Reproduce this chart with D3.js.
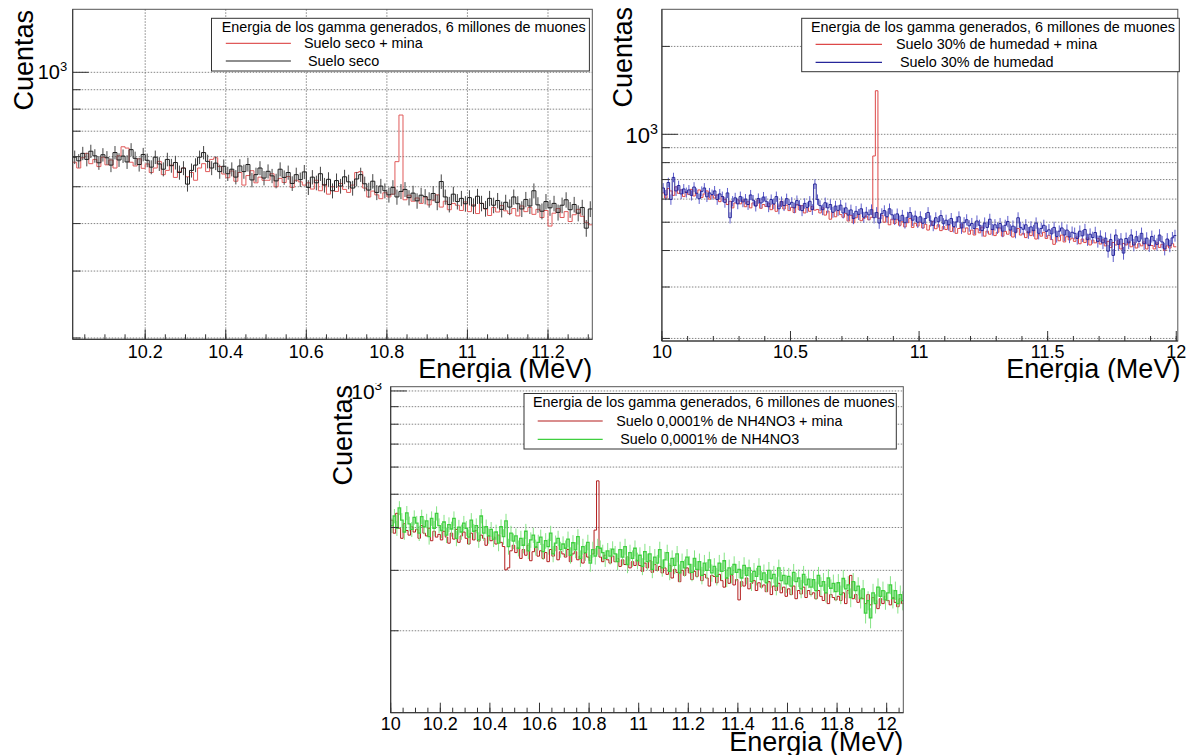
<!DOCTYPE html>
<html><head><meta charset="utf-8">
<script src="https://cdn.jsdelivr.net/npm/d3@7"></script>
<style>
body{margin:0;background:#fff}
svg{display:block}
text{font-family:"Liberation Sans",Arial,Helvetica,sans-serif;fill:#000}
</style>
</head><body>
<svg id="c" width="1188" height="755"></svg>
<script>
// ---------------- DATA ----------------
const binWidth = 0.01;
const legendTitle = "Energia de los gamma generados, 6 millones de muones";
const xTitle = "Energia (MeV)";
const yTitle = "Cuentas";

// Top-left: bins start at 10.02
const tlStart = 10.02;
const tlRed = [580,560,596,612,575,590,565,598,
571,588,560,603,637,632,580,567,592,559,
574,545,560,583,538,552,570,529,548,560,
531,545,520,560,575,548,590,596,565,540,
528,550,517,545,505,535,551,512,530,520,
520,541,500,526,513,532,498,520,515,505,
512,493,520,488,507,478,500,486,510,492,
483,505,545,548,496,470,487,476,465,482,
470,478,582,772,462,475,458,467,452,470,
448,461,476,442,458,435,452,447,433,456,
430,448,425,452,437,420,441,429,446,432,
425,438,419,445,430,441,423,436,415,433,
394,426,438,415,430,405,422,436,418,403,
397];
const tlBlack = [598,585,612,590,620,603,578,607,
596,570,615,588,602,581,626,594,572,608,
587,563,598,574,556,590,568,579,545,560,
508,552,570,598,615,583,560,577,548,566,
541,556,530,567,548,572,521,538,560,527,
549,534,518,556,529,545,510,538,522,547,
498,530,512,541,505,523,488,519,502,531,
515,496,524,538,509,490,517,483,502,488,
476,498,470,486,492,468,481,459,475,471,
462,480,455,516,470,449,478,457,466,451,
468,445,472,452,438,466,447,460,436,455,
442,470,451,437,463,445,488,448,431,457,
440,452,428,447,462,435,449,426,441,389,
437];
const tlLabels = ["Suelo seco + mina", " Suelo seco"];
const tlXTicks = [10.2,10.4,10.6,10.8,11,11.2];

// Top-right: bins start at 10.00
const trStart = 10.00;
const trRed = [630,605,652,640,618,661,628,645,612,636,
622,648,615,630,645,608,625,640,600,618,
605,620,588,612,598,575,590,560,582,596,
578,595,565,588,560,582,570,596,558,575,
566,580,552,575,545,568,590,555,572,548,
562,540,575,552,570,538,560,545,566,550,
553,538,560,529,546,512,540,522,548,531,
520,536,505,528,498,518,532,506,515,525,
510,520,843,1410,515,528,500,521,490,512,
495,510,488,502,482,498,515,480,496,485,
500,478,492,470,488,503,475,490,468,483,
472,490,465,480,458,476,492,463,478,455,
470,452,475,460,481,448,466,455,473,450,
462,478,448,465,455,470,445,460,476,452,
458,443,465,450,470,438,455,448,462,440,
451,436,420,445,432,452,428,446,435,441,
430,445,422,438,426,442,418,434,425,440,
421,435,415,430,410,426,418,432,405,423,
418,430,412,425,408,422,415,428,405,420,
416,405,425,410,420,400,415,408,422,412];
const trBlue = [655,620,684,598,712,640,668,625,650,632,
645,618,660,628,602,638,655,611,630,622,
640,598,625,612,585,630,518,590,606,578,
612,587,600,575,620,595,568,603,582,610,
590,565,598,578,612,556,588,570,602,575,
585,560,593,571,548,580,562,590,553,676,
598,570,552,583,560,575,541,568,549,572,
538,560,529,551,515,545,532,556,520,541,
530,552,518,540,497,535,548,522,556,530,
512,534,505,528,498,520,540,508,525,500,
522,496,515,540,505,488,518,502,527,494,
508,490,515,483,501,522,478,498,510,486,
495,476,505,488,468,497,480,512,472,490,
478,495,466,488,503,470,485,462,518,480,
473,490,460,482,468,497,458,476,488,465,
471,456,480,447,466,478,452,470,445,462,
458,440,466,449,472,436,455,443,461,430,
448,425,441,398,436,385,452,420,438,392,
440,425,452,418,446,430,458,422,441,416,
447,432,420,452,428,405,438,415,442,450];
const trLabels = ["Suelo 30% de humedad + mina", " Suelo 30% de humedad"];
const trXTicks = [10,10.5,11,11.5,12];

// Bottom: bins start at 10.00
const btStart = 10.00;
const btRed = [420,385,440,398,372,410,392,380,402,388,
395,372,405,385,378,398,366,390,375,382,
368,390,375,360,385,370,395,362,378,388,
372,358,385,368,392,365,380,372,355,378,
366,375,358,380,362,352,301,305,342,355,
338,350,325,345,332,355,320,340,352,330,
342,325,338,318,345,330,352,322,340,335,
328,345,318,335,340,322,330,315,336,328,
320,335,393,547,328,318,332,322,315,330,
318,325,308,322,312,328,305,318,310,322,
310,298,315,305,320,296,312,300,308,295,
305,292,310,285,302,296,278,300,290,305,
295,282,298,288,302,280,292,285,270,290,
288,276,292,280,268,285,275,290,272,282,
246,278,270,285,265,275,280,262,276,268,
272,260,278,255,270,262,275,258,268,252,
265,255,270,248,262,256,268,250,262,255,
258,248,262,252,245,258,240,255,250,246,
252,245,258,240,262,290,248,255,242,250,
248,240,255,238,250,245,232,248,240,252,
245,238,250,242,235,248,240];
const btGreen = [405,432,398,456,420,388,441,410,395,428,
412,385,430,402,418,376,425,398,440,405,
392,415,380,408,396,425,372,401,388,412,
398,375,420,390,405,368,432,385,402,378,
395,370,388,360,402,376,418,352,385,365,
378,348,372,355,390,342,368,380,350,362,
375,340,366,352,385,335,360,372,345,358,
348,370,332,361,344,376,325,352,338,362,
315,345,330,352,348,338,325,342,330,346,
335,318,345,328,352,312,338,325,348,320,
332,308,340,318,335,302,328,315,345,305,
322,338,298,325,310,335,295,318,305,328,
312,296,325,302,318,290,315,300,322,295,
308,288,315,298,320,285,305,292,312,296,
302,285,310,290,305,278,298,288,308,282,
295,276,300,284,292,270,305,280,290,274,
288,270,296,278,285,265,292,272,283,268,
282,262,290,270,278,258,285,266,275,260,
276,255,284,265,272,250,278,262,270,248,
265,225,245,218,258,240,268,252,262,246,
258,272,248,262,240,255,245];
const btLabels = ["Suelo 0,0001% de NH4NO3 + mina", " Suelo 0,0001% de NH4NO3"];
const btXTicks = [10,10.2,10.4,10.6,10.8,11,11.2,11.4,11.6,11.8,12];

const yGridVals = [100,200,300,400,500,600,700,800,900,1000,2000,3000];

// ---------------- LAYOUT ----------------
const panels = [
  {clip:[0,0,600,382], f:{l:72.7,r:592.3,t:9.3,b:339.3}, xDom:[10.02,11.31], yDom:[198.4,1465],
   start:tlStart, series:[{d:tlRed,c:"#e05a5a",err:false,w:1},{d:tlBlack,c:"#1e1e1e",err:true,w:1,ec:"#444"}],
   labels:tlLabels, xt:tlXTicks, minor:0.05, vgrid:true,
   yl:{x:33,y:10}, e3:{fs:20,dx:5.5,dy:7}, tickBase:358, xtBase:377.5, xtRight:592.3,
   leg:{box:[211.5,18.3,589.4,71],tx:221.7,tb:32,lx:[225.8,290.9],ry:[43.3,61],lab:304,fs:14.4}},
  {clip:[600,0,588,382], f:{l:661.9,r:1177.8,t:9.3,b:341}, xDom:[10,12.006], yDom:[196,2680],
   start:trStart, series:[{d:trRed,c:"#dd4848",err:false,w:1},{d:trBlue,c:"#26269a",err:true,w:1,ec:"#5d5dcc"}],
   labels:trLabels, xt:trXTicks, minor:0.1, vgrid:false,
   yl:{x:632,y:7}, e3:{fs:22,dx:4,dy:9}, tickBase:358, xtBase:377.5, xtRight:1180.4,
   leg:{box:[801.7,18.3,1179.3,71.7],tx:811,tb:32,lx:[815.6,882],ry:[44.3,62.3],lab:896,fs:14.4}},
  {clip:[300,383,620,372], f:{l:390.7,r:903.3,t:386.7,b:712.7}, xDom:[10,12.067], yDom:[115.4,1029],
   start:btStart, series:[{d:btRed,c:"#b31d1d",err:false,w:1},{d:btGreen,c:"#3fcf3f",err:true,w:1.3,ec:"#86e486"}],
   labels:btLabels, xt:btXTicks, minor:0.05, vgrid:false,
   yl:{x:352,y:385}, e3:{fs:21,dx:8.5,dy:8}, tickBase:730, xtBase:751, xtRight:903.3,
   leg:{box:[524,393.5,896.3,449],tx:533,tb:406.5,lx:[537.7,602.7],ry:[421,439.3],lab:616.3,fs:14.3}}
];

const svg = d3.select("#c");
const defs = svg.append("defs");
const fmt = v => (Math.round(v*10)/10).toString();

panels.forEach((p, pi) => {
  const cid = "clipP"+pi, fid = "clipF"+pi;
  defs.append("clipPath").attr("id",cid).append("rect")
    .attr("x",p.clip[0]).attr("y",p.clip[1]).attr("width",p.clip[2]).attr("height",p.clip[3]);
  defs.append("clipPath").attr("id",fid).append("rect")
    .attr("x",p.f.l).attr("y",p.f.t).attr("width",p.f.r-p.f.l).attr("height",p.f.b-p.f.t);
  const g = svg.append("g").attr("clip-path",`url(#${cid})`);
  g.append("rect").attr("x",p.clip[0]).attr("y",p.clip[1]).attr("width",p.clip[2]).attr("height",p.clip[3]).attr("fill","#fff");

  const x = d3.scaleLinear().domain(p.xDom).range([p.f.l,p.f.r]);
  const y = d3.scaleLog().domain(p.yDom).range([p.f.b,p.f.t]);

  // horizontal grid
  const gv = yGridVals.filter(v => v>p.yDom[0] && v<p.yDom[1]);
  g.append("g").selectAll("line").data(gv).join("line")
    .attr("x1",p.f.l).attr("x2",p.f.r).attr("y1",d=>y(d)).attr("y2",d=>y(d))
    .attr("stroke","#777").attr("stroke-width",0.9).attr("stroke-dasharray","1.5,1.5");
  if (p.vgrid) {
    g.append("g").selectAll("line").data(p.xt).join("line")
      .attr("x1",d=>x(d)).attr("x2",d=>x(d)).attr("y1",p.f.t).attr("y2",p.f.b)
      .attr("stroke","#777").attr("stroke-width",0.9).attr("stroke-dasharray","1.5,1.5");
  }

  // histograms
  const dg = g.append("g").attr("clip-path",`url(#${fid})`);
  const line = d3.line().x(d=>x(d[0])).y(d=>y(d[1])).curve(d3.curveStepAfter);
  const s0 = Math.round(p.start*100);
  p.series.forEach(s => {
    const pts = s.d.map((v,i)=>[(s0+i)/100, v]);
    pts.push([(s0+s.d.length)/100, s.d[s.d.length-1]]);
    if (s.err) {
      dg.append("g").selectAll("line").data(s.d).join("line")
        .attr("x1",(v,i)=>x((s0+i+0.5)/100)).attr("x2",(v,i)=>x((s0+i+0.5)/100))
        .attr("y1",v=>y(v-Math.sqrt(v))).attr("y2",v=>y(v+Math.sqrt(v)))
        .attr("stroke",s.ec).attr("stroke-width",1);
    }
    dg.append("path").datum(pts).attr("d",line).attr("fill","none")
      .attr("stroke",s.c).attr("stroke-width",s.w);
  });

  // frame
  g.append("rect").attr("x",p.f.l).attr("y",p.f.t).attr("width",p.f.r-p.f.l).attr("height",p.f.b-p.f.t)
    .attr("fill","none").attr("stroke","#555").attr("stroke-width",1);
  g.append("line").attr("x1",p.f.l).attr("x2",p.f.r).attr("y1",p.f.b).attr("y2",p.f.b).attr("stroke","#333");
  g.append("line").attr("x1",p.f.l).attr("x2",p.f.l).attr("y1",p.f.t).attr("y2",p.f.b).attr("stroke","#333");

  // y ticks
  g.append("g").selectAll("line").data(gv).join("line")
    .attr("x1",p.f.l).attr("x2",d=>p.f.l+(d===1000?16:8)).attr("y1",d=>y(d)).attr("y2",d=>y(d))
    .attr("stroke","#333").attr("stroke-width",1);

  // x ticks
  const mstep = Math.round(p.minor*100);
  const lo = Math.ceil(p.xDom[0]*100/mstep-1e-6), hi = Math.floor(p.xDom[1]*100/mstep+1e-6);
  const minorT = d3.range(lo, hi+1).map(k => k*mstep/100);
  g.append("g").selectAll("line").data(minorT).join("line")
    .attr("x1",d=>x(d)).attr("x2",d=>x(d)).attr("y1",p.f.b).attr("y2",p.f.b-5)
    .attr("stroke","#333").attr("stroke-width",1);
  g.append("g").selectAll("line").data(p.xt).join("line")
    .attr("x1",d=>x(d)).attr("x2",d=>x(d)).attr("y1",p.f.b).attr("y2",p.f.b-10)
    .attr("stroke","#333").attr("stroke-width",1);
  g.append("g").selectAll("text").data(p.xt).join("text")
    .attr("x",d=>x(d)).attr("y",p.tickBase).attr("text-anchor","middle")
    .attr("font-size",18).text(d=>fmt(d));

  // 10^3 label
  const t3 = g.append("text").attr("x",p.f.l-p.e3.dx).attr("y",y(1000)+p.e3.dy)
    .attr("text-anchor","end").attr("font-size",p.e3.fs);
  t3.append("tspan").text("10");
  t3.append("tspan").attr("dy",-p.e3.fs*0.42).attr("font-size",p.e3.fs*0.65).text("3");

  // axis titles
  g.append("text").attr("transform",`translate(${p.yl.x},${p.yl.y}) rotate(-90)`)
    .attr("text-anchor","end").attr("font-size",27).text(yTitle);
  g.append("text").attr("x",p.xtRight).attr("y",p.xtBase).attr("text-anchor","end")
    .attr("font-size",27).text(xTitle);

  // legend
  const L = p.leg;
  const lg = g.append("g");
  lg.append("rect").attr("x",L.box[0]).attr("y",L.box[1]).attr("width",L.box[2]-L.box[0]).attr("height",L.box[3]-L.box[1])
    .attr("fill","#fff").attr("stroke","#333").attr("stroke-width",1);
  lg.append("text").attr("x",L.tx).attr("y",L.tb).attr("font-size",L.fs).text(legendTitle);
  p.series.forEach((s,i) => {
    lg.append("line").attr("x1",L.lx[0]).attr("x2",L.lx[1]).attr("y1",L.ry[i]).attr("y2",L.ry[i])
      .attr("stroke",s.c).attr("stroke-width",1.2);
    lg.append("text").attr("x",L.lab).attr("y",L.ry[i]+5).attr("font-size",L.fs)
      .attr("xml:space","preserve").style("white-space","pre").text(p.labels[i]);
  });
});
</script>
</body></html>
